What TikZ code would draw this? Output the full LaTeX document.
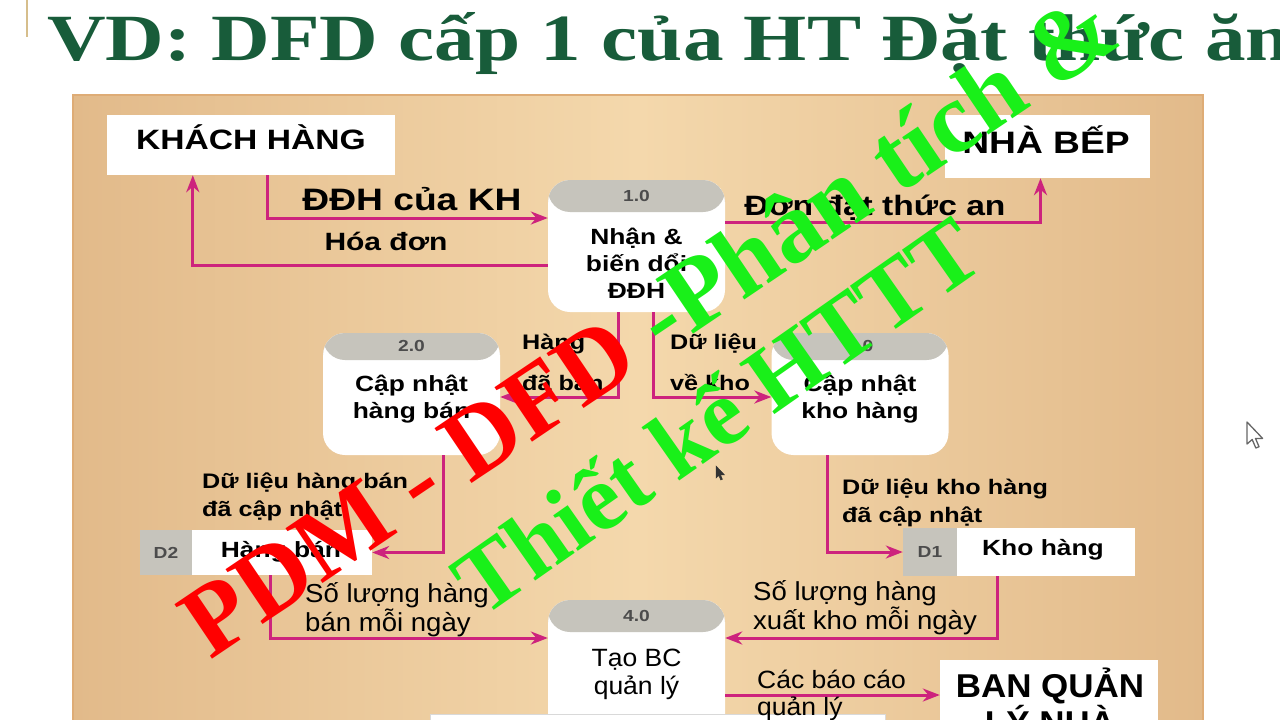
\documentclass[tikz,border=0pt]{standalone}
\usepackage{fontspec}
\setmainfont{Liberation Serif}
\newfontfamily\titlefont{Liberation Serif}[FakeStretch=1.23]
\newfontfamily\dfdfont{Liberation Sans}[FakeStretch=1.2]
\newfontfamily\narrowfont{Liberation Sans}[FakeStretch=1.06]
\usetikzlibrary{arrows.meta}

\definecolor{titlegreen}{RGB}{24,92,58}
\definecolor{goldline}{RGB}{214,190,140}
\definecolor{panedge}{RGB}{226,186,138}
\definecolor{panmid}{RGB}{244,216,172}
\definecolor{panborder}{RGB}{222,172,118}
\definecolor{headgray}{RGB}{198,196,188}
\definecolor{flowpink}{RGB}{205,35,125}
\definecolor{wmred}{RGB}{255,0,0}
\definecolor{wmgreen}{RGB}{25,240,25}

\begin{document}
\begin{tikzpicture}[x=1pt,y=-1pt,
      flow/.style={flowpink,line width=3pt,-{Stealth[length=17pt,width=13pt]}},
      whitebox/.style={fill=white,draw=none,inner sep=0pt},
      proc/.style={whitebox,rounded corners=22pt,minimum width=177pt,
         path picture={\fill[headgray] (path picture bounding box.north west)
            rectangle ([yshift=-#1]path picture bounding box.north east);}},
      pnum/.style={inner sep=0pt,text=black!70,font=\dfdfont\bfseries\fontsize{16}{18}\selectfont},
      ptext/.style={inner sep=0pt,align=center,font=\dfdfont\bfseries\fontsize{22}{27}\selectfont},
      enttext/.style={inner sep=0pt,align=center,font=\dfdfont\bfseries\fontsize{28}{34}\selectfont},
      storeid/.style={fill=headgray,inner sep=0pt,text=black!70,font=\dfdfont\bfseries\fontsize{16}{18}\selectfont},
      lbl/.style={inner sep=0pt,align=left,font=\dfdfont\bfseries\fontsize{21}{28}\selectfont},
      lblnarrow/.style={inner sep=0pt,align=left,font=\narrowfont\fontsize{26}{29}\selectfont},
      wmark/.style={inner sep=0pt,anchor=base}]

   \useasboundingbox (0,0) rectangle (1280,720);
   \clip (0,0) rectangle (1280,720);
   \fill[white] (0,0) rectangle (1280,720);

   \draw[goldline,line width=2pt] (27,0) -- (27,37);
   \node[anchor=base west,inner sep=0pt,text=titlegreen,
         font=\titlefont\bfseries\fontsize{66}{74}\selectfont] (title) at (47,60)
         {VD: DFD cấp 1 của HT Đặt thức ăn};

   \shade[left color=panedge,right color=panedge,middle color=panmid]
      (73,95) rectangle (1203,730);
   \draw[panborder,line width=2pt] (73,730) -- (73,95) -- (1203,95) -- (1203,730);

   % tac nhan
   \node[whitebox,minimum width=288pt,minimum height=60pt] (kh) at (251,145) {};
   \node[enttext] (khtxt) at (251,137) {KHÁCH HÀNG};
   \node[whitebox,minimum width=205pt,minimum height=63pt] (nb) at (1047.5,146.5) {};
   \node[enttext,font=\dfdfont\bfseries\fontsize{31}{34}\selectfont] (nbtxt) at (1046,140) {NHÀ BẾP};
   \node[whitebox,minimum width=218pt,minimum height=100pt] (bql) at (1049,710) {};
   \node[enttext,font=\narrowfont\bfseries\fontsize{33}{33}\selectfont] (bqltxt) at (1050,701)
      {BAN QUẢN\\LÝ NHÀ};

   % kho du lieu
   \node[whitebox,minimum width=180pt,minimum height=45pt] (d2) at (282,552.5) {};
   \node[storeid,minimum width=52pt,minimum height=45pt] (d2id) at (166,552.5) {D2};
   \node[ptext] (d2txt) at (281,552) {Hàng bán};
   \node[whitebox,minimum width=178pt,minimum height=48pt] (d1) at (1046,552) {};
   \node[storeid,minimum width=54pt,minimum height=48pt] (d1id) at (930,552) {D1};
   \node[ptext] (d1txt) at (1043,550) {Kho hàng};

   % xu ly
   \node[proc=32pt,minimum height=132pt] (p1) at (636.5,246) {};
   \node[pnum] (p1n) at (636.5,196) {1.0};
   \node[ptext] (p1t) at (636.5,263) {Nhận \&\\biến dổi\\ĐĐH};
   \node[proc=27pt,minimum height=122pt] (p2) at (411.5,394) {};
   \node[pnum] (p2n) at (411.5,346) {2.0};
   \node[ptext] (p2t) at (411.5,399) {Cập nhật\\hàng bán};
   \node[proc=27pt,minimum height=122pt] (p3) at (860,394) {};
   \node[pnum] (p3n) at (860,346) {3.0};
   \node[ptext] (p3t) at (860,399.5) {Cập nhật\\kho hàng};
   \node[proc=32pt,minimum height=140pt] (p4) at (636.5,670) {};
   \node[pnum] (p4n) at (636.5,616) {4.0};
   \node[ptext,font=\narrowfont\fontsize{25}{28}\selectfont] (p4t) at (636.5,674) {Tạo BC\\quản lý};
   \node[whitebox,draw=black!15,minimum width=455pt,minimum height=16pt] (btm) at (657.5,722) {};

   % luong du lieu
   \draw[flow] ([xshift=161pt]kh.south west) |- ([yshift=28pt]p1.west);
   \draw[flow] ([yshift=-19pt]p1.west) -| ([xshift=86pt]kh.south west);
   \draw[flow] ([yshift=24pt]p1.east) -| ([xshift=-7pt]nb.south);
   \draw[flow] ([xshift=-18.5pt]p1.south) |- ([yshift=-3pt]p2.east);
   \draw[flow] ([xshift=16.5pt]p1.south) |- ([yshift=-3pt]p3.west);
   \draw[flow] ([xshift=31.5pt]p2.south) |- (d2.east);
   \draw[flow] ([xshift=-33pt]p3.south) |- (d1id.west);
   \draw[flow] ([xshift=-12pt]d2.south) |- ([yshift=32pt]p4.west);
   \draw[flow] ([xshift=-49pt]d1.south) |- ([yshift=32pt]p4.east);
   \draw[flow] ([yshift=-25pt]p4.east) -- ([yshift=15pt]bql.west);

   \node[lbl,font=\dfdfont\bfseries\fontsize{31}{34}\selectfont] (l1) at (412,199) {ĐĐH của KH};
   \node[lbl,font=\dfdfont\bfseries\fontsize{25}{30}\selectfont] (l2) at (386,241) {Hóa đơn};
   \node[lbl,font=\dfdfont\bfseries\fontsize{28}{32}\selectfont] (l3) at (875,208) {Đơn đặt thức an};
   \node[lbl,anchor=west,font=\dfdfont\bfseries\fontsize{21}{41}\selectfont] (l4) at (522,362) {Hàng\\đã bán};
   \node[lbl,anchor=west,font=\dfdfont\bfseries\fontsize{21}{41}\selectfont] (l5) at (670,362) {Dữ liệu\\về kho};
   \node[lbl,anchor=west] (l6) at (202,497) {Dữ liệu hàng bán\\đã cập nhật};
   \node[lbl,anchor=west] (l7) at (842,503) {Dữ liệu kho hàng\\đã cập nhật};
   \node[lblnarrow,anchor=west] (l8) at (305,610) {Số lượng hàng\\bán mỗi ngày};
   \node[lblnarrow,anchor=west] (l9) at (753,608) {Số lượng hàng\\xuất kho mỗi ngày};
   \node[lblnarrow,anchor=west,font=\narrowfont\fontsize{25}{27}\selectfont] (l10) at (757,695) {Các báo cáo\\quản lý};

   % chu chen
   \node[wmark,rotate=34,font=\bfseries\fontsize{101}{110}\selectfont] (wm1) at (667,352)
      {\textcolor{wmred}{PDM - DFD }\textcolor{wmgreen}{-Phân tích \&}};
   \node[wmark,rotate=35,text=wmgreen,font=\bfseries\fontsize{94}{110}\selectfont] (wm2) at (735,442)
      {Thiết kế HTTT};

   % con tro chuot
   \filldraw[shift={(716,466)},fill=black!80,draw=black!80,line width=0.5pt]
      (0,0) -- (0,12) -- (2.8,9.5) -- (4.8,14) -- (6.4,13.3) -- (4.5,8.8) -- (8.4,8.8) -- cycle;
   \filldraw[shift={(1247,422)},fill=white,draw=black!60,line width=1.3pt,line join=round]
      (0,0) -- (0,22) -- (5.2,17.5) -- (8.8,26) -- (12,24.7) -- (8.5,16.4) -- (15.6,16.4) -- cycle;
\end{tikzpicture}
\end{document}
